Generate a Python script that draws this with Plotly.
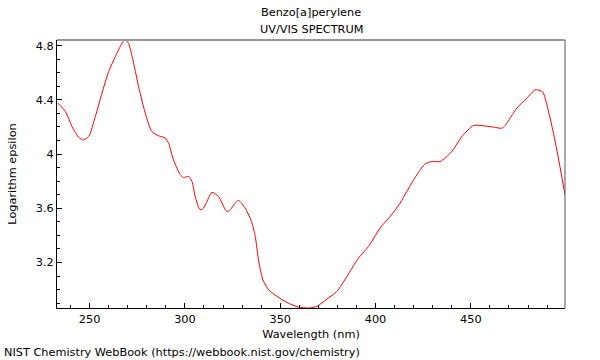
import plotly.graph_objects as go

wavelength_nm = [233.4, 237.3, 240.8, 244.2, 246.8, 249.5, 253.0, 256.5, 260.0, 263.5,
                 267.0, 268.7, 270.4, 273.1, 275.7, 279.2, 282.7, 286.2, 289.7, 291.4,
                 294.0, 297.6, 299.3, 301.9, 303.7, 305.4, 308.0, 309.8, 314.2, 317.6,
                 322.0, 323.8, 326.4, 328.1, 331.6, 334.6, 336.9, 338.6, 340.9, 343.9,
                 348.3, 353.5, 359.6, 364.8, 369.2, 374.5, 379.7, 385.0, 391.1, 396.3,
                 402.4, 407.7, 412.9, 416.4, 421.7, 426.0, 429.5, 433.9, 440.0, 445.3,
                 451.4, 454.9, 461.9, 466.3, 468.0, 474.1, 479.4, 483.7, 486.3, 487.8,
                 491.6, 495.1, 499.4]
log_epsilon = [4.376, 4.314, 4.203, 4.125, 4.105, 4.129, 4.277, 4.450, 4.609, 4.719,
               4.818, 4.842, 4.818, 4.671, 4.498, 4.302, 4.166, 4.135, 4.118, 4.081,
               3.958, 3.847, 3.827, 3.835, 3.798, 3.687, 3.589, 3.601, 3.717, 3.687,
               3.576, 3.589, 3.638, 3.658, 3.601, 3.515, 3.392, 3.220, 3.073, 2.999,
               2.950, 2.905, 2.871, 2.864, 2.876, 2.930, 2.986, 3.097, 3.233, 3.318,
               3.454, 3.540, 3.638, 3.724, 3.847, 3.928, 3.945, 3.945, 4.019, 4.129,
               4.211, 4.211, 4.199, 4.191, 4.211, 4.339, 4.413, 4.474, 4.469, 4.457,
               4.265, 4.031, 3.700]

x_tick_vals = [250, 300, 350, 400, 450]
y_tick_vals = [3.2, 3.6, 4.0, 4.4, 4.8]
y_tick_text = ["3.2", "3.6", "4", "4.4", "4.8"]

FONT = "DejaVu Sans, Verdana, sans-serif"
FS = 11.3

fig = go.Figure()
fig.add_trace(go.Scatter(
    x=wavelength_nm, y=log_epsilon, mode="lines",
    line=dict(color="#ff0000", width=1, shape="spline", smoothing=0.7),
    hoverinfo="x+y", showlegend=False,
))

fig.update_layout(
    width=600, height=360,
    margin=dict(l=57, r=35, t=40, b=52),
    paper_bgcolor="white", plot_bgcolor="white",
    font=dict(family=FONT, size=FS, color="#000"),
    showlegend=False,
)

fig.update_xaxes(
    range=[min(wavelength_nm) - 0.5, max(wavelength_nm)],
    tickvals=x_tick_vals,
    ticks="inside", ticklen=5, tickcolor="#000", tickwidth=1,
    minor=dict(dtick=10, tick0=0, ticks="inside", ticklen=3, tickcolor="#000"),
    showline=True, linecolor="#000", linewidth=1,
    showgrid=False, zeroline=False,
    title=dict(text="Wavelength (nm)", standoff=5, font=dict(size=FS)),
    tickfont=dict(size=FS),
)
fig.update_yaxes(
    range=[min(log_epsilon), max(log_epsilon)],
    tickvals=y_tick_vals, ticktext=y_tick_text,
    ticks="inside", ticklen=5, tickcolor="#000", tickwidth=1,
    minor=dict(dtick=0.1, tick0=0, ticks="inside", ticklen=3, tickcolor="#000"),
    showline=True, linecolor="#000", linewidth=1,
    showgrid=False, zeroline=False,
    title=dict(text="Logarithm epsilon", standoff=16, font=dict(size=FS)),
    tickfont=dict(size=FS),
)

# frame: top (gray, thicker) and right borders
fig.add_shape(type="line", xref="paper", yref="paper", x0=0, x1=1, y0=1, y1=1,
              line=dict(color="#999999", width=2))
fig.add_shape(type="line", xref="paper", yref="paper", x0=1, x1=1, y0=0, y1=1,
              line=dict(color="#555555", width=1))

fig.add_annotation(text="Benzo[a]perylene", xref="paper", yref="paper",
                   x=0.5, y=1, yshift=28, showarrow=False, yanchor="middle",
                   font=dict(size=FS, family=FONT))
fig.add_annotation(text="UV/VIS SPECTRUM", xref="paper", yref="paper",
                   x=0.5, y=1, yshift=11, showarrow=False, yanchor="middle",
                   font=dict(size=FS, family=FONT))
fig.add_annotation(text="NIST Chemistry WebBook (https://webbook.nist.gov/chemistry)",
                   xref="paper", yref="paper", x=-57/508, y=0, yshift=-44,
                   xanchor="left", yanchor="middle", showarrow=False,
                   xshift=2, font=dict(size=FS, family=FONT))

fig.write_html("out.html", config={"displayModeBar": False},
               post_script="document.body.style.margin='0';document.body.style.overflow='hidden';")
